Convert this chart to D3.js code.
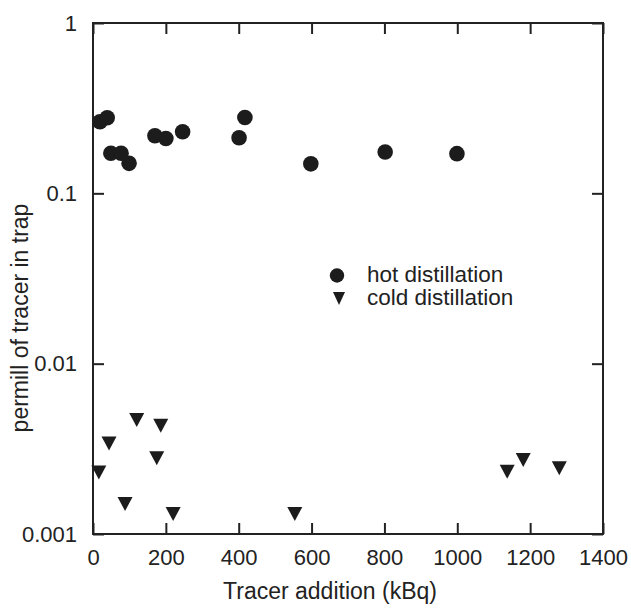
<!DOCTYPE html>
<html>
<head>
<meta charset="utf-8">
<script src="https://cdn.jsdelivr.net/npm/d3@7"></script>
<style>
  html, body { margin: 0; padding: 0; background: #fff; }
  svg { display: block; }
  text { font-family: "Liberation Sans", Arial, Helvetica, sans-serif; fill: #222; }
</style>
</head>
<body>
<script>
// ---- data ----
const hotX = [19, 39, 49, 77, 99, 170, 200, 246, 401, 417, 598, 802, 999];
const hotY = [0.263, 0.278, 0.172, 0.172, 0.150, 0.218, 0.210, 0.230, 0.212, 0.279, 0.149, 0.175, 0.171];
const coldX = [16, 44, 88, 120, 175, 186, 220, 554, 1137, 1181, 1280];
const coldY = [0.0023, 0.0034, 0.0015, 0.00467, 0.00278, 0.00432, 0.00131, 0.00131, 0.00232, 0.00272, 0.00243];
const xTicks = [0, 200, 400, 600, 800, 1000, 1200, 1400];
const yTicks = [0.001, 0.01, 0.1, 1];
const yTickLabels = ["0.001", "0.01", "0.1", "1"];
const seriesNames = ["hot distillation", "cold distillation"];
const xTitle = "Tracer addition (kBq)";
const yTitle = "permill of tracer in trap";

// ---- layout ----
const W = 631, H = 611;
const L = 93, R = 603, T = 23, B = 534;
const ink = "#1c1c1c";

const svg = d3.select("body").append("svg").attr("width", W).attr("height", H);

const x = d3.scaleLinear().domain([0, 1400]).range([L, R]);
const y = d3.scaleLog().domain([0.001, 1]).range([B, T]);

const tickLen = 11;
const axStyle = g => {
  g.select(".domain").remove();
  g.selectAll(".tick line").attr("stroke", "#222").attr("stroke-width", 2);
  g.selectAll(".tick text").style("font-size", "22px").attr("fill", "#222");
};

// bottom axis (ticks inward, labels below)
svg.append("g").attr("transform", `translate(0,${B})`)
  .call(d3.axisBottom(x).tickValues(xTicks).tickSize(-tickLen).tickPadding(15).tickFormat(d3.format("d")))
  .call(axStyle)
  .call(g => g.selectAll(".tick text").attr("dy", "0.71em"));
// top axis ticks
svg.append("g").attr("transform", `translate(0,${T})`)
  .call(d3.axisTop(x).tickValues(xTicks).tickSize(-tickLen).tickFormat(""))
  .call(axStyle);
// left axis
svg.append("g").attr("transform", `translate(${L},0)`)
  .call(d3.axisLeft(y).tickValues(yTicks).tickSize(-tickLen).tickPadding(16)
    .tickFormat((d, i) => yTickLabels[i]))
  .call(axStyle);
// right axis ticks
svg.append("g").attr("transform", `translate(${R},0)`)
  .call(d3.axisRight(y).tickValues(yTicks).tickSize(-tickLen).tickFormat(""))
  .call(axStyle);

// frame
svg.append("rect").attr("x", L).attr("y", T).attr("width", R - L).attr("height", B - T)
  .attr("fill", "none").attr("stroke", "#222").attr("stroke-width", 2);

// marks
const tri = (w, h) => `M${-w/2},${-h/2}L${w/2},${-h/2}L0,${h/2}Z`;

svg.append("g").selectAll("circle").data(hotX.map((v, i) => [v, hotY[i]])).join("circle")
  .attr("cx", d => x(d[0])).attr("cy", d => y(d[1])).attr("r", 7.8).attr("fill", ink);

svg.append("g").selectAll("path").data(coldX.map((v, i) => [v, coldY[i]])).join("path")
  .attr("transform", d => `translate(${x(d[0])},${y(d[1])})`)
  .attr("d", tri(15, 14)).attr("fill", ink);

// legend
const lg = svg.append("g");
lg.append("circle").attr("cx", 337).attr("cy", 275.5).attr("r", 7.2).attr("fill", ink);
lg.append("path").attr("transform", "translate(339,298.5)").attr("d", tri(12, 13)).attr("fill", ink);
lg.append("text").attr("x", 367).attr("y", 282).style("font-size", "22.5px").text(seriesNames[0]);
lg.append("text").attr("x", 367).attr("y", 304.5).style("font-size", "22.5px").text(seriesNames[1]);

// axis titles
svg.append("text").attr("x", 330).attr("y", 599).attr("text-anchor", "middle")
  .style("font-size", "23px").text(xTitle);
svg.append("text").attr("transform", "translate(28,318) rotate(-90)").attr("text-anchor", "middle")
  .style("font-size", "23px").text(yTitle);
</script>
</body>
</html>
